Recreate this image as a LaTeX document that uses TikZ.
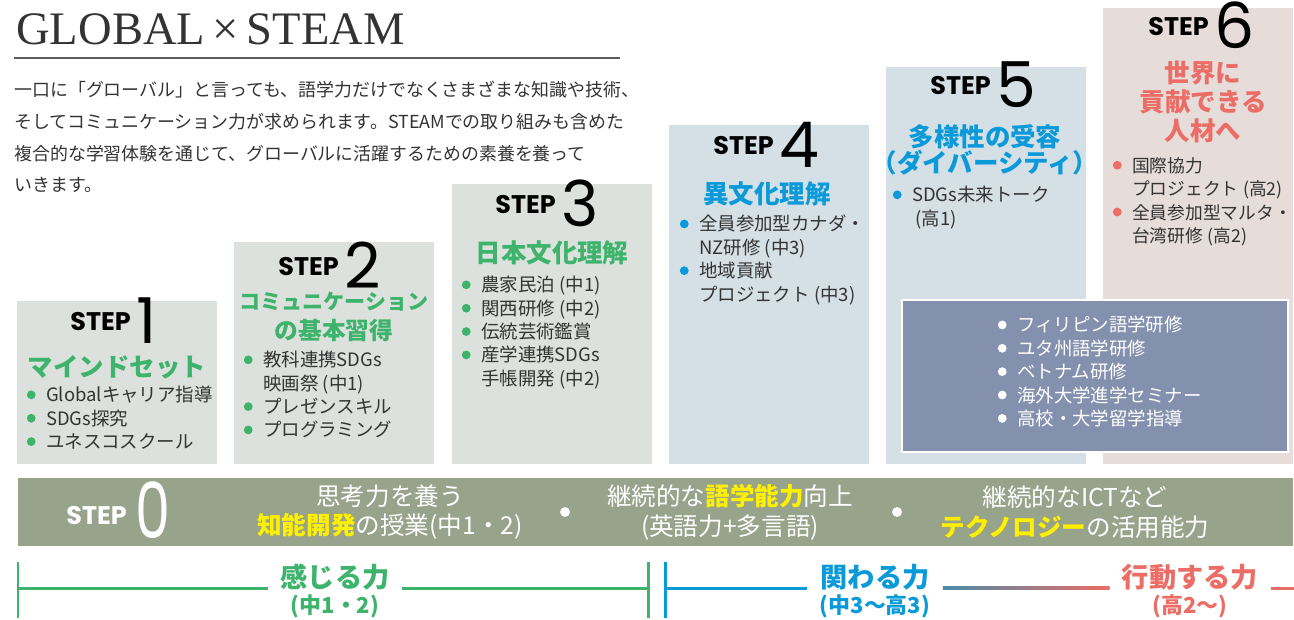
\documentclass[tikz,border=0pt]{standalone}
\usepackage{fontspec}
\usepackage{graphicx}
\setmainfont{Noto Sans CJK JP}
\newfontfamily\stepfont{Poppins}
\newfontfamily\titlefont{Liberation Serif}
\usetikzlibrary{positioning}

\definecolor{grnC}{HTML}{3DB36B}
\definecolor{bluC}{HTML}{0A9AD9}
\definecolor{redC}{HTML}{EB6D66}
\definecolor{boxA}{HTML}{DCE1DD}
\definecolor{boxB}{HTML}{D4DFE6}
\definecolor{boxC}{HTML}{E6DCD9}
\definecolor{ovlC}{HTML}{8491AE}
\definecolor{barC}{HTML}{97A38B}
\definecolor{ylwC}{HTML}{FFF000}
\definecolor{txtC}{HTML}{333333}

\tikzset{
  steplabel/.style={anchor=base west, inner sep=0pt, text=black},
  heading/.style={font=\bfseries\fontsize{14.5}{16}\selectfont, align=center, inner sep=0pt},
  itemlist/.style={anchor=north west, align=left, inner sep=0pt, text=txtC, font=\fontsize{10.5}{13.3}\selectfont},
  bartext/.style={text=white, align=center, inner sep=0pt, font=\fontsize{14}{17}\selectfont},
  power/.style={font=\bfseries\fontsize{15.5}{15}\selectfont, align=center, inner xsep=7pt, inner ysep=0pt},
  span/.style={line width=1.7pt},
}

\newcommand{\stepno}[1]{{\stepfont\bfseries\fontsize{14.5}{15}\selectfont\raisebox{7pt}{STEP}}\hspace{3pt}{\stepfont\fontsize{36}{36}\selectfont #1}}
\newcommand{\dotitem}[1]{\makebox[11pt][l]{\tikz[baseline=-4pt]\fill[#1] (0,0) circle (2.5pt);}}
\newcommand{\hang}{\hspace*{11pt}}
\newcommand{\hl}[1]{{\bfseries\color{ylwC}#1}}
\newcommand{\pa}[1]{\hspace{2.5pt}(#1)}
\newcommand{\sub}[1]{{\fontsize{12.5}{13}\selectfont #1}}

\begin{document}
\begin{tikzpicture}[x=0.02cm, y=-0.02cm]
  \useasboundingbox (0,0) rectangle (1294,619);

  % title and lead text
  \node[anchor=base west, inner sep=0pt, text=txtC, font=\titlefont\fontsize{26.5}{27}\selectfont] (title) at (16,44) {GLOBAL\,×\,STEAM};
  \draw[txtC!80, line width=0.8pt] (14,58) -- (620,58);
  \node[anchor=north west, align=left, inner sep=0pt, text=txtC, font=\fontsize{10.2}{18}\selectfont] (lead) at (14,81)
    {一口に「グローバル」と言っても、語学力だけでなくさまざまな知識や技術、\\
     そしてコミュニケーション力が求められます。STEAMでの取り組みも含めた\\
     複合的な学習体験を通じて、グローバルに活躍するための素養を養って\\
     いきます。};

  % step boxes
  \fill[boxA] (17,301) rectangle (217,464);
  \fill[boxA] (234,242) rectangle (434,464);
  \fill[boxA] (452,184) rectangle (652,464);
  \fill[boxB] (669,125) rectangle (869,464);
  \fill[boxB] (886,67) rectangle (1086,464);
  \fill[boxC] (1103,8) rectangle (1293,464);

  % step 1
  \node[steplabel] (s1) at (70,343) {\stepno{1}};
  \node[heading, text=grnC] (s1h) at (117,367) {マインドセット};
  \node[itemlist] (s1l) at (26.5,386)
    {\dotitem{grnC}Globalキャリア指導\\
     \dotitem{grnC}SDGs探究\\
     \dotitem{grnC}ユネスコスクール};

  % step 2
  \node[steplabel] (s2) at (278,288) {\stepno{2}};
  \node[heading, text=grnC, font=\bfseries\fontsize{12}{17}\selectfont] (s2h) at (334,317)
    {コミュニケーション\\{\fontsize{13.5}{17}\selectfont の基本習得}};
  \node[itemlist] (s2l) at (243.5,351)
    {\dotitem{grnC}教科連携SDGs\\
     \hang 映画祭\pa{中1}\\
     \dotitem{grnC}プレゼンスキル\\
     \dotitem{grnC}プログラミング};

  % step 3
  \node[steplabel] (s3) at (495,226) {\stepno{3}};
  \node[heading, text=grnC] (s3h) at (552,253) {日本文化理解};
  \node[itemlist] (s3l) at (461.5,276)
    {\dotitem{grnC}農家民泊\pa{中1}\\
     \dotitem{grnC}関西研修\pa{中2}\\
     \dotitem{grnC}伝統芸術鑑賞\\
     \dotitem{grnC}産学連携SDGs\\
     \hang 手帳開発\pa{中2}};

  % step 4
  \node[steplabel] (s4) at (713,167) {\stepno{4}};
  \node[heading, text=bluC] (s4h) at (767,194) {異文化理解};
  \node[itemlist] (s4l) at (679.5,215)
    {\dotitem{bluC}全員参加型カナダ・\\
     \hang NZ研修\pa{中3}\\
     \dotitem{bluC}地域貢献\\
     \hang プロジェクト\pa{中3}};

  % step 5
  \node[steplabel] (s5) at (930,107) {\stepno{5}};
  \node[heading, text=bluC, font=\bfseries\fontsize{14.5}{15}\selectfont] (s5h) at (985,150) {多様性の受容\\（ダイバーシティ）};
  \node[itemlist] (s5l) at (892.5,186)
    {\dotitem{bluC}SDGs未来トーク\\
     \hang\hspace{2pt}(高1)};

  % step 6
  \node[steplabel] (s6) at (1148,48) {\stepno{6}};
  \node[heading, text=redC, font=\bfseries\fontsize{14.5}{16.4}\selectfont] (s6h) at (1203,102) {世界に\\貢献できる\\人材へ};
  \node[itemlist, font=\fontsize{10.1}{13.3}\selectfont] (s6l) at (1112.5,157)
    {\dotitem{redC}国際協力\\
     \hang プロジェクト\pa{高2}\\
     \dotitem{redC}全員参加型マルタ・\\
     \hang 台湾研修\pa{高2}};

  % study abroad panel
  \draw[white, line width=1.2pt, fill=ovlC] (902,300) rectangle (1288,452);
  \node[itemlist, text=white] (ovl) at (997.5,316)
    {\dotitem{white}フィリピン語学研修\\
     \dotitem{white}ユタ州語学研修\\
     \dotitem{white}ベトナム研修\\
     \dotitem{white}海外大学進学セミナー\\
     \dotitem{white}高校・大学留学指導};

  % step 0 bar
  \fill[barC] (18,478) rectangle (1293,546);
  \node[steplabel, text=white] (s0) at (66,538)
    {{\stepfont\bfseries\fontsize{14.5}{15}\selectfont\raisebox{7.5pt}{STEP}}\hspace{5pt}{\stepfont\fontsize{44}{44}\selectfont\scalebox{0.72}[1]{0}}};
  \node[bartext] (b1) at (390,512) {思考力を養う\\\hl{知能開発}の授業(中1・2)};
  \node[bartext] (b2) at (730,512) {継続的な\hl{語学能力}向上\\(英語力+多言語)};
  \node[bartext] (b3) at (1075,512) {継続的なICTなど\\\hl{テクノロジー}の活用能力};
  \fill[white] (565,512) circle (2.8pt);
  \fill[white] (897,512) circle (2.8pt);

  % timeline of abilities
  \coordinate (g0) at (18,588);
  \coordinate (g1) at (648,588);
  \coordinate (c0) at (665,588);
  \coordinate (e0) at (1294,588);
  \node[power, text=grnC] (feel) at (335,591) {感じる力\\\sub{(中1・2)}};
  \node[power, text=bluC] (relate) at (875,591) {関わる力\\\sub{(中3〜高3)}};
  \node[power, text=redC] (act) at (1190,591) {行動する力\\\sub{(高2〜)}};

  \draw[span, grnC] (18,562) -- (18,618);
  \draw[span, grnC] (648,562) -- (648,618);
  \draw[span, bluC] (665,562) -- (665,618);
  \draw[span, grnC] (g0) -- (g0 -| feel.west);
  \draw[span, grnC] (g1 -| feel.east) -- (g1);
  \draw[span, bluC] (c0) -- (c0 -| relate.west);
  \shade[left color=bluC!45!gray, right color=redC] ([yshift=0.85pt]c0 -| relate.east) rectangle ([yshift=-0.85pt]c0 -| act.west);
  \draw[span, redC] (e0 -| act.east) -- (e0);
\end{tikzpicture}
\end{document}
